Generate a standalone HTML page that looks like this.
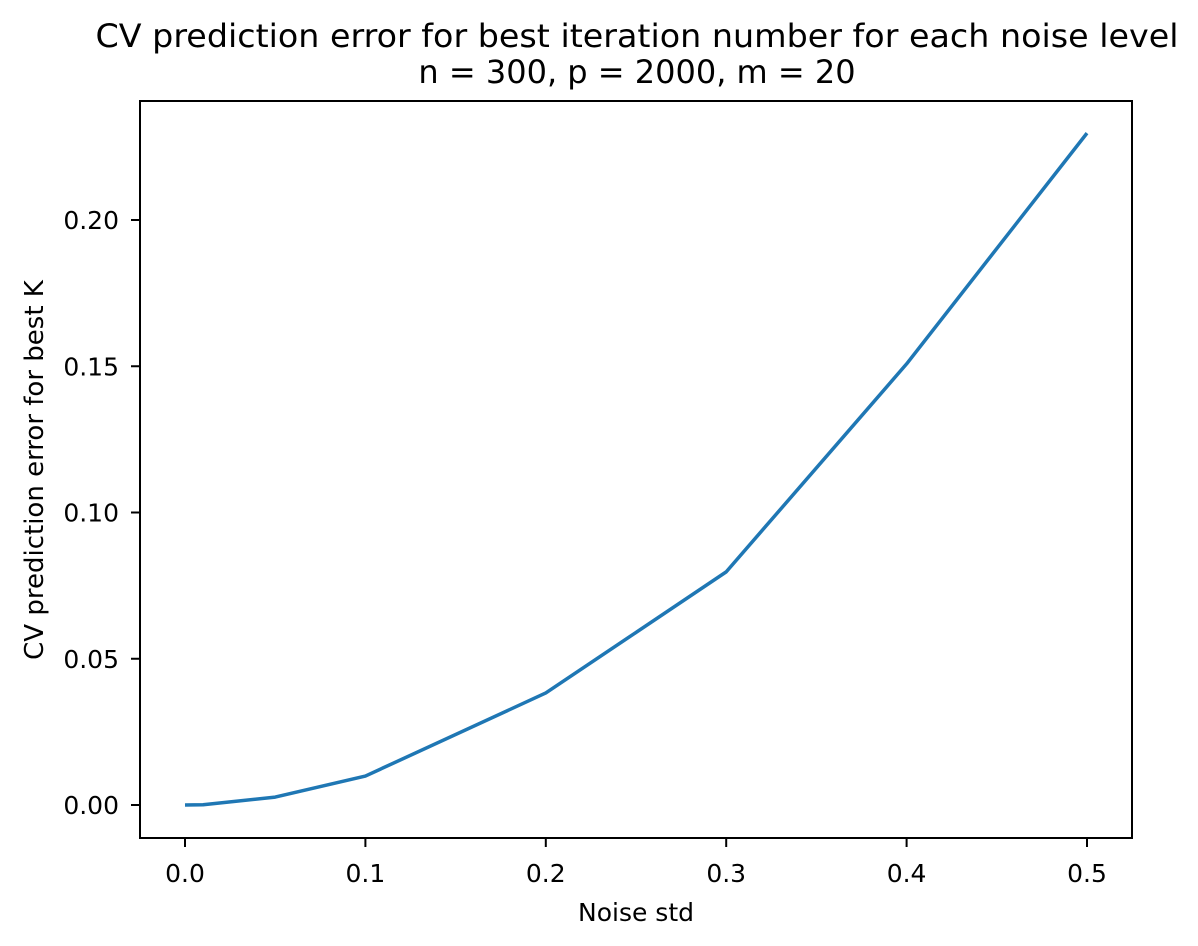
<!DOCTYPE html>
<html><head><meta charset="utf-8"><style>
body{margin:0;background:#fff;}
svg{display:block;font-family:"DejaVu Sans","Liberation Sans",sans-serif;}
</style></head><body>
<svg id="chart" width="1198" height="946">
<text x="637" y="47" font-size="32" text-anchor="middle" textLength="1083" lengthAdjust="spacingAndGlyphs">CV prediction error for best iteration number for each noise level</text>
<text x="637" y="83" font-size="32" text-anchor="middle">n = 300, p = 2000, m = 20</text>
<g id="xt"></g><g id="yt"></g>
<path id="line" fill="none" stroke="#1f77b4" stroke-width="3.5" stroke-linejoin="round"/>
<rect x="140" y="101" width="992" height="737" fill="none" stroke="#000" stroke-width="2"/>
<text x="636" y="921" font-size="25" text-anchor="middle">Noise std</text>
<text transform="translate(43,470) rotate(-90)" font-size="26" text-anchor="middle">CV prediction error for best K</text>
</svg>
<script>
const noiseStd=[0,0.01,0.05,0.1,0.2,0.3,0.4,0.5];
const cvError=[0,0.0001,0.0027,0.0099,0.0383,0.0797,0.1508,0.2297];
const xTicks=[0,0.1,0.2,0.3,0.4,0.5];
const xTickLabels=["0.0","0.1","0.2","0.3","0.4","0.5"];
const yTicks=[0,0.05,0.10,0.15,0.20];
const yTickLabels=["0.00","0.05","0.10","0.15","0.20"];
const NS="http://www.w3.org/2000/svg";
function sx(v){return 185+v*1804;}
function sy(v){return 805-v*2925;}
const xt=document.getElementById('xt'),yt=document.getElementById('yt');
xTicks.forEach((t,i)=>{
 const l=document.createElementNS(NS,'line');
 l.setAttribute('x1',sx(t));l.setAttribute('x2',sx(t));l.setAttribute('y1',838);l.setAttribute('y2',847);l.setAttribute('stroke','#000');l.setAttribute('stroke-width','2');
 
 
 xt.appendChild(l);
 const tx=document.createElementNS(NS,'text');
 tx.setAttribute('x',sx(t));tx.setAttribute('y',882);tx.setAttribute('font-size','25');tx.setAttribute('text-anchor','middle');
 tx.textContent=xTickLabels[i];
 
 
 xt.appendChild(tx);
});
yTicks.forEach((t,i)=>{
 const l=document.createElementNS(NS,'line');
 l.setAttribute('x1',131);l.setAttribute('x2',140);l.setAttribute('y1',sy(t));l.setAttribute('y2',sy(t));l.setAttribute('stroke','#000');l.setAttribute('stroke-width','2');
 
 
 yt.appendChild(l);
 const tx=document.createElementNS(NS,'text');
 tx.setAttribute('x',119);tx.setAttribute('y',sy(t)+9);tx.setAttribute('font-size','25');tx.setAttribute('text-anchor','end');
 tx.textContent=yTickLabels[i];
 
 
 yt.appendChild(tx);
});
document.getElementById('line').setAttribute('d',noiseStd.map((x,i)=>(i?'L':'M')+sx(x)+' '+sy(cvError[i])).join(' '));
</script>
</body></html>
